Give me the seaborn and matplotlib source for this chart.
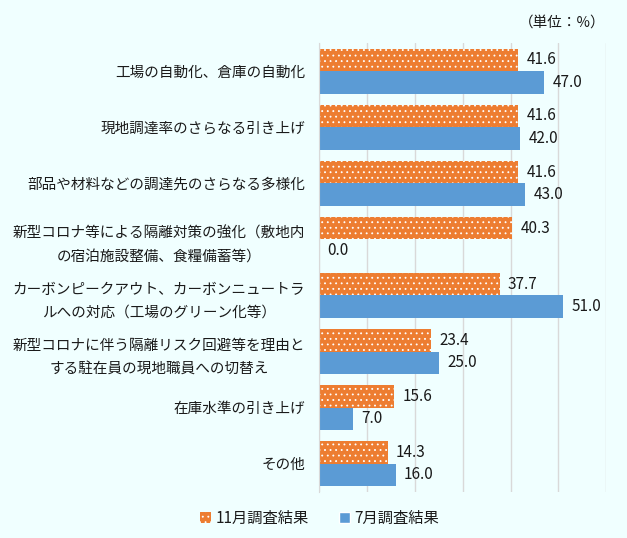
import numpy as np
import pandas as pd
import seaborn as sns
import matplotlib.pyplot as plt

categories = [
    '工場の自動化、倉庫の自動化',
    '現地調達率のさらなる引き上げ',
    '部品や材料などの調達先のさらなる多様化',
    '新型コロナ等による隔離対策の強化（敷地内\nの宿泊施設整備、食糧備蓄等）',
    'カーボンピークアウト、カーボンニュートラ\nルへの対応（工場のグリーン化等）',
    '新型コロナに伴う隔離リスク回避等を理由と\nする駐在員の現地職員への切替え',
    '在庫水準の引き上げ',
    'その他',
]
nov_values = [41.6, 41.6, 41.6, 40.3, 37.7, 23.4, 15.6, 14.3]
jul_values = [47.0, 42.0, 43.0, 0.0, 51.0, 25.0, 7.0, 16.0]
series_names = ['11月調査結果', '7月調査結果']

df = pd.DataFrame({
    'item': categories * 2,
    'value': nov_values + jul_values,
    'survey': [series_names[0]] * len(categories) + [series_names[1]] * len(categories),
})

sns.set_style('white')
plt.rcParams['font.family'] = ['Noto Sans CJK JP', 'DejaVu Sans']
plt.rcParams['hatch.linewidth'] = 0.6

bg = '#F0FFFF'
fig = plt.figure(figsize=(6.27, 5.38), dpi=100, facecolor=bg)
ax = fig.add_axes([0.509, 0.086, 0.458, 0.834])
ax.set_facecolor(bg)

colors = ['#ED7D31', '#5B9BD5']
sns.barplot(data=df, y='item', x='value', hue='survey', order=categories,
            hue_order=series_names, palette=colors, width=0.8, ax=ax,
            saturation=1, orient='h')

# white dots on the orange bars
for p in ax.containers[0]:
    p.set_hatch('...')
    p.set_edgecolor('white')
    p.set_linewidth(0)
for p in ax.containers[1]:
    p.set_linewidth(0)

for c in ax.containers:
    ax.bar_label(c, fmt='%.1f', padding=6, fontsize=11, color='#1a1a1a')

ax.set_xlim(0, 60)
ax.set_xticks(np.arange(0, 61, 10))
ax.set_xticklabels([])
ax.xaxis.grid(True, color='#D9D9D9', linewidth=1)
ax.set_axisbelow(True)
for s in ['top', 'right', 'bottom']:
    ax.spines[s].set_visible(False)
ax.spines['left'].set_color('#D9D9D9')
ax.set_xlabel('')
ax.set_ylabel('')
ax.tick_params(axis='both', length=0, pad=10)
for t in ax.get_yticklabels():
    t.set_fontsize(10.5)
    t.set_color('#1a1a1a')
    t.set_multialignment('center')
    t.set_linespacing(1.8)

handles, labels = ax.get_legend_handles_labels()
ax.get_legend().remove()
handles[0].set_hatch('...')
handles[0].set_edgecolor('white')
handles[0].set_linewidth(0)
fig.legend(handles, labels, loc='center', bbox_to_anchor=(0.51, 0.037), ncol=2,
           frameon=False, fontsize=11, handlelength=0.7, handleheight=0.7,
           handletextpad=0.3, columnspacing=2.0, labelcolor='#1a1a1a')

fig.text(0.965, 1 - 23 / 538, '（単位：%）', ha='right', va='center',
         fontsize=10.5, color='#1a1a1a')

fig.savefig('out.png', dpi=100, facecolor=bg)
